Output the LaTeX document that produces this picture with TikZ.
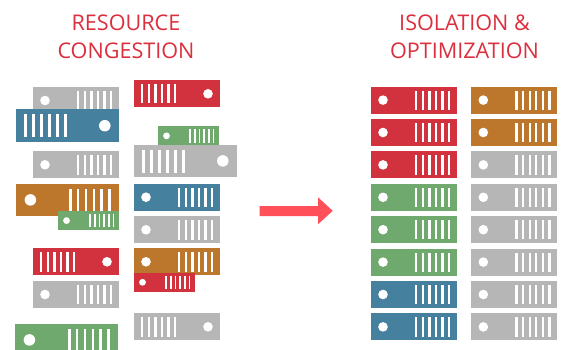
\documentclass[tikz,border=0pt]{standalone}
\usepackage{fontspec}
\setmainfont{Open Sans}
\definecolor{srvred}{HTML}{D2323E}
\definecolor{srvorange}{HTML}{BC772D}
\definecolor{srvgray}{HTML}{B5B6B5}
\definecolor{srvgreen}{HTML}{6FA96E}
\definecolor{srvblue}{HTML}{45819F}
\definecolor{titlered}{HTML}{DC2F3E}
\definecolor{arrowred}{HTML}{FF4F58}
% \srv{x}{y}{scale}{colour}{dot x}{first bar x}
\newcommand{\srv}[6]{%
  \begin{scope}[shift={(#1,#2)},scale=#3]
    \fill[#4] (0,0) rectangle (86,27);
    \fill[white] (#5,13.5) circle[radius=4.8];
    \foreach \i in {0,...,5}
      \fill[white] ({#6+\i*6.6},4) rectangle ++(2.3,19.2);
  \end{scope}}
\newcommand{\srvL}[4]{\srv{#1}{#2}{#3}{#4}{12}{44}}
\newcommand{\srvR}[4]{\srv{#1}{#2}{#3}{#4}{74}{7}}
\tikzset{headline/.style={text=titlered,font=\fontsize{21.6}{25}\selectfont,inner sep=0pt,anchor=center}}
\begin{document}
\begin{tikzpicture}[x=1pt,y=-1pt]
\clip (0,0) rectangle (564,350);
\fill[white] (0,0) rectangle (564,350);
\node[headline] (t1) at (126,23) {RESOURCE};
\node[headline] (t2) at (126,51) {CONGESTION};
\node[headline] (t3) at (464.5,23) {ISOLATION \&};
\node[headline] (t4) at (464.5,51) {OPTIMIZATION};
% left stack
\srvL{33}{87}{1}{srvgray}
\srvR{16}{109.5}{1.2}{srvblue}
\srvL{33}{151.3}{1}{srvgray}
\srvL{16}{183.7}{1.2}{srvorange}
\srvL{58}{211}{0.71}{srvgreen}
\srvR{33}{248.3}{1}{srvred}
\srvL{33}{281}{1}{srvgray}
\srvL{15}{323.7}{1.2}{srvgreen}
% second stack
\srvR{134}{80.3}{1}{srvred}
\srvL{158}{126.3}{0.71}{srvgreen}
\srvR{134}{144.7}{1.2}{srvgray}
\srvL{134}{183.7}{1}{srvblue}
\srvL{134}{216.3}{1}{srvgray}
\srvL{134}{248.3}{1}{srvorange}
\srvL{134}{272.7}{0.71}{srvred}
\srvR{134}{313.3}{1}{srvgray}
% ordered columns
\foreach \n/\c/\d in {0/srvred/srvorange,1/srvred/srvorange,2/srvred/srvgray,3/srvgreen/srvgray,4/srvgreen/srvgray,5/srvgreen/srvgray,6/srvblue/srvgray,7/srvblue/srvgray}{
  \srvL{371}{86.6+\n*32.4}{1}{\c}
  \srvL{471.3}{86.6+\n*32.4}{1}{\d}
}
% arrow
\fill[arrowred] (259.5,206) -- (318,206) -- (318,197.3) -- (332.7,210.8) -- (318,224.3) -- (318,216) -- (259.5,216) -- cycle;
\end{tikzpicture}
\end{document}
